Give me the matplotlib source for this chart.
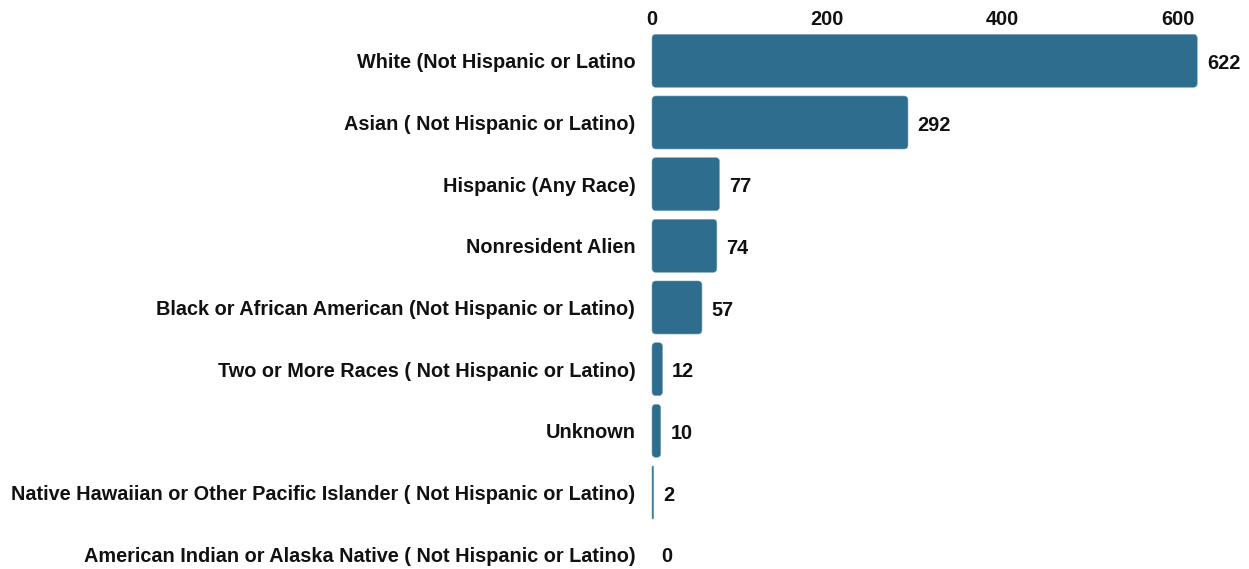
import numpy as np
import matplotlib.pyplot as plt
from matplotlib.patches import FancyBboxPatch

categories = [
    'White (Not Hispanic or Latino',
    'Asian ( Not Hispanic or Latino)',
    'Hispanic (Any Race)',
    'Nonresident Alien',
    'Black or African American (Not Hispanic or Latino)',
    'Two or More Races ( Not Hispanic or Latino)',
    'Unknown',
    'Native Hawaiian or Other Pacific Islander ( Not Hispanic or Latino)',
    'American Indian or Alaska Native ( Not Hispanic or Latino)',
]
counts = [622, 292, 77, 74, 57, 12, 10, 2, 0]
xticks = [0, 200, 400, 600]

plt.rcParams['font.family'] = ['Liberation Sans', 'DejaVu Sans']
bar_color = '#2e6d8e'
fs = 14.3

fig = plt.figure(figsize=(12.49, 5.69), dpi=100)
W, H = 1249, 569
# axes: left at x=652px, top at y=30px, rows ~61.7px apart
ax = fig.add_axes([652 / W, (H - 30 - 555) / H, (W - 652) / W, 555 / H])

y = np.arange(len(categories))
bar_h = 0.86
xmax = 681
ax.set_xlim(0, xmax)
ax.set_ylim(len(categories) - 0.5, -0.5)

# rounded bars
px_per_x = (W - 652) / xmax
px_per_y = 555 / len(categories)
r_px = 4
for yi, v in zip(y, counts):
    if v <= 0:
        continue
    r = min(r_px / px_per_x, v / 2)
    patch = FancyBboxPatch((0, yi - bar_h / 2), v, bar_h,
                           boxstyle=f'round,pad=0,rounding_size={r}',
                           mutation_aspect=(px_per_x / px_per_y),
                           facecolor=bar_color, edgecolor='#7fa7bd',
                           linewidth=0.4, clip_on=False)
    ax.add_patch(patch)

for yi, v in zip(y, counts):
    ax.annotate(str(v), xy=(v, yi), xytext=(7, -2), textcoords='offset points',
                ha='left', va='center', fontsize=fs, fontweight='bold',
                color='#111111', annotation_clip=False)

# labels sit a couple of pixels below the bar centre
ax.set_yticks(y + 2 / px_per_y)
ax.set_yticklabels(categories, fontsize=fs, fontweight='bold', color='#111111',
                   va='center')
ax.set_xticks(xticks)
ax.set_xticklabels([str(t) for t in xticks], fontsize=fs, fontweight='bold',
                   color='#111111')
ax.xaxis.tick_top()
ax.tick_params(axis='x', length=0, pad=1)
ax.tick_params(axis='y', length=0, pad=12)
for s in ax.spines.values():
    s.set_visible(False)

fig.savefig('out.png', dpi=100)
